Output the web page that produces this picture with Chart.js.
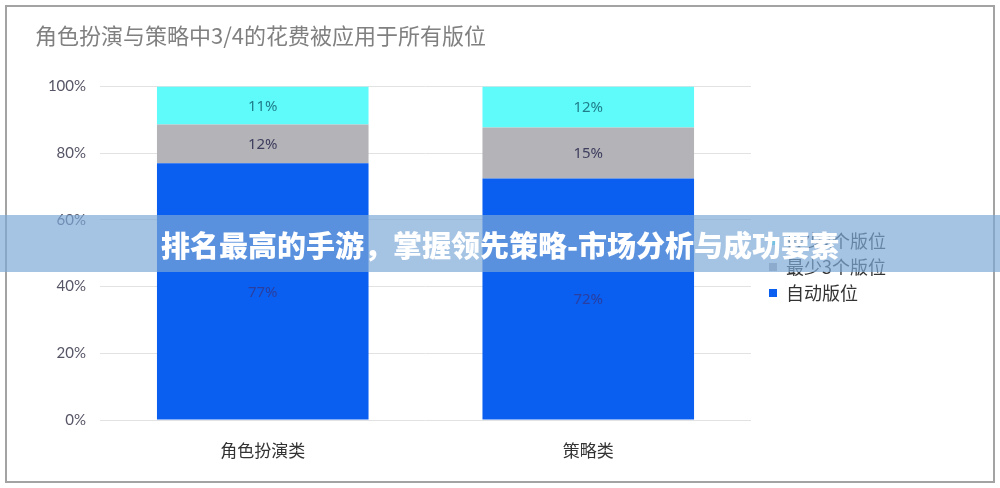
<!DOCTYPE html>
<html>
<head>
<meta charset="utf-8">
<script src="https://cdn.jsdelivr.net/npm/chart.js@4.4.1/dist/chart.umd.min.js"></script>
<style>
  html, body { margin: 0; padding: 0; background: #ffffff; }
  #wrap { position: relative; width: 1000px; height: 488px; overflow: hidden; }
  #frame { position: absolute; left: 5px; top: 5px; width: 986px; height: 474px; border: 2px solid #a3a3a3; pointer-events: none; }
  canvas { position: absolute; left: 0; top: 0; }
  #banner { position: absolute; left: 0; top: 215px; width: 1000px; height: 57px; background: rgba(125,168,215,0.69);
    color: #ffffff; font-family: "Noto Sans CJK SC", sans-serif; font-weight: 900; font-size: 29px; line-height: 58px; text-align: center; }
</style>
</head>
<body>
<div id="wrap">
  <canvas id="c" width="1000" height="488"></canvas>
  <div id="frame"></div>
  <div id="banner">排名最高的手游，掌握领先策略-市场分析与成功要素</div>
</div>
<script>
const chartTitle = '角色扮演与策略中3/4的花费被应用于所有版位';
const categories = ['角色扮演类', '策略类'];
const seriesNames = ['自动版位', '最少3个版位', '最少2个版位'];
const autoPlacement = [77, 72.4];
const min3Placement = [11.6, 15.3];
const min2Placement = [11.4, 12.3];
const yTicks = [0, 20, 40, 60, 80, 100];

const colors = ['#0A5EF0', '#B3B3B8', '#5FFBFB'];
const labelColors = ['#2A3FA0', '#3E3E5E', '#1F7E8A'];

const labelPlugin = {
  id: 'barLabels',
  afterDatasetsDraw(chart) {
    const ctx = chart.ctx;
    ctx.save();
    ctx.font = '15px "Noto Sans", sans-serif';
    ctx.textAlign = 'center';
    ctx.textBaseline = 'middle';
    chart.data.datasets.forEach((ds, i) => {
      const meta = chart.getDatasetMeta(i);
      meta.data.forEach((bar, j) => {
        const p = bar.getProps(['x', 'y', 'base'], true);
        ctx.fillStyle = labelColors[i];
        ctx.fillText(Math.round(ds.data[j]) + '%', p.x, (p.y + p.base) / 2 + 1);
      });
    });
    ctx.restore();
  }
};

new Chart(document.getElementById('c'), {
  type: 'bar',
  data: {
    labels: categories,
    datasets: [
      { label: seriesNames[0], data: autoPlacement, backgroundColor: colors[0] },
      { label: seriesNames[1], data: min3Placement, backgroundColor: colors[1] },
      { label: seriesNames[2], data: min2Placement, backgroundColor: colors[2] }
    ]
  },
  options: {
    responsive: false,
    animation: false,
    devicePixelRatio: 1,
    layout: { padding: { left: 35, right: 104, top: 0, bottom: 0 } },
    datasets: { bar: { barPercentage: 0.65, categoryPercentage: 1.0, borderWidth: 0 } },
    scales: {
      x: {
        stacked: true,
        grid: { display: false },
        border: { display: false },
        ticks: { color: '#333333', font: { family: '"Noto Sans CJK SC", sans-serif', size: 17 }, padding: 12 },
        afterFit: (s) => { s.height = 68; }
      },
      y: {
        stacked: true,
        min: 0, max: 100,
        afterBuildTicks: (s) => { s.ticks = yTicks.map(v => ({ value: v })); },
        grid: { color: '#E2E2E2', drawTicks: false, lineWidth: 1 },
        border: { display: false },
        ticks: { color: '#555566', font: { family: '"Lato", sans-serif', size: 15 }, padding: 14,
          callback: (v) => v + '%' },
        afterFit: (s) => { s.width = 65; }
      },
      yr: {
        position: 'right',
        display: true,
        grid: { display: false },
        border: { display: false },
        ticks: { display: false },
        afterFit: (s) => { s.width = 10; }
      }
    },
    plugins: {
      title: {
        display: true, text: chartTitle, align: 'start', color: '#808080',
        font: { family: '"Noto Sans CJK SC", sans-serif', size: 22, weight: 'normal' },
        padding: { top: 22, bottom: 38 }
      },
      legend: {
        position: 'right', reverse: true, fullSize: false, align: 'center',
        title: { display: true, text: ' ', font: { size: 18 }, padding: 3 },
        labels: { boxWidth: 8, boxHeight: 8, padding: 8, color: '#333333',
          font: { family: '"Noto Sans CJK SC", sans-serif', size: 18 } }
      },
      tooltip: { enabled: false }
    }
  },
  plugins: [labelPlugin]
});
</script>
</body>
</html>
